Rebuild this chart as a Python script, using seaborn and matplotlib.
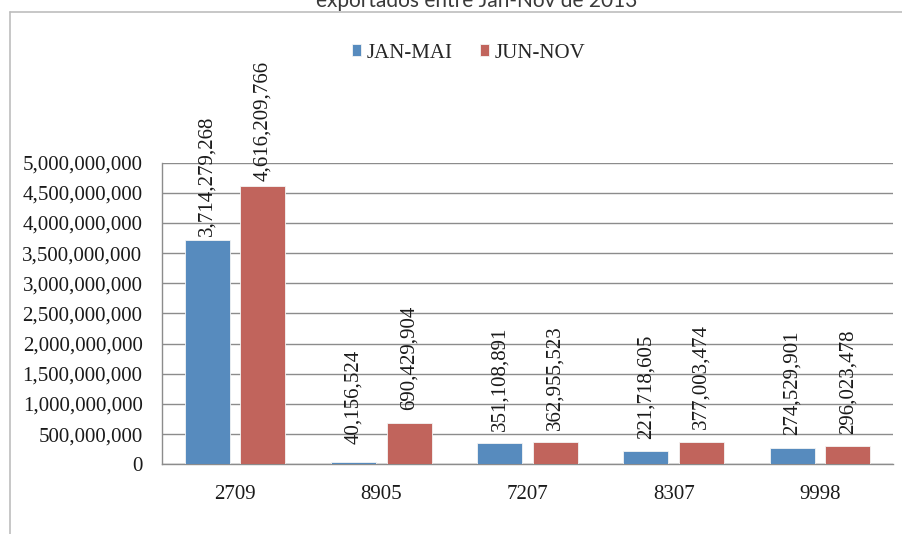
import matplotlib
matplotlib.use("Agg")
import matplotlib.pyplot as plt
from matplotlib.lines import Line2D
from matplotlib.ticker import FuncFormatter, MultipleLocator
import pandas as pd
import seaborn as sns

# Exported value per product code, Jan–May vs Jun–Nov 2013
categories = ["2709", "8905", "7207", "8307", "9998"]
jan_mai = [3714279268, 40156524, 351108891, 221718605, 274529901]
jun_nov = [4616209766, 690429904, 362955523, 377003474, 296023478]
series_names = ["JAN-MAI", "JUN-NOV"]
title_text = "exportados entre Jan-Nov de 2013"

df = pd.DataFrame({
    "codigo": categories * 2,
    "valor": jan_mai + jun_nov,
    "periodo": [series_names[0]] * len(categories) + [series_names[1]] * len(categories),
})

sns.set_theme(style="white")
serif = ["Liberation Serif", "DejaVu Serif"]
plt.rcParams["font.family"] = serif

W, H = 903, 534
fig = plt.figure(figsize=(W / 100, H / 100), dpi=100)
ax = fig.add_axes([162 / W, 1 - 464.3 / H, (893 - 162) / W, (464.3 - 162.7) / H])

palette = {"JAN-MAI": "#578BBE", "JUN-NOV": "#C1645C"}
sns.barplot(data=df, x="codigo", y="valor", hue="periodo", order=categories,
            hue_order=series_names, palette=palette, saturation=1,
            width=0.76, gap=0.19, errorbar=None, ax=ax,
            edgecolor="#f4f4f4", linewidth=0.6, zorder=3)

ax.set_ylim(0, 5e9)
ax.set_xlim(-0.5, len(categories) - 0.5)
ax.yaxis.set_major_locator(MultipleLocator(5e8))
ax.yaxis.set_major_formatter(FuncFormatter(lambda v, _: f"{v:,.0f}"))
ax.grid(axis="y", color="#8c8c8c", linewidth=1.0, zorder=0)
ax.set_axisbelow(True)
ax.set_xlabel("")
ax.set_ylabel("")

for side in ("top", "right"):
    ax.spines[side].set_visible(False)
for side in ("left", "bottom"):
    ax.spines[side].set_color("#8c8c8c")
    ax.spines[side].set_linewidth(1.0)

ax.tick_params(axis="both", length=0, labelsize=15, colors="#1a1a1a")
ax.tick_params(axis="y", pad=14)
ax.tick_params(axis="x", pad=15)

# Rotated value labels above each bar
for container in ax.containers:
    for bar in container:
        h = bar.get_height()
        ax.annotate(f"{h:,.0f}", xy=(bar.get_x() + bar.get_width() / 2, h),
                    xytext=(0, 46.5), textcoords="offset points",
                    rotation=90, ha="center", va="center",
                    fontsize=15, color="#1a1a1a", family=serif)

ax.legend(loc="center", bbox_to_anchor=(468.5 / W, 1 - 53 / H),
          bbox_transform=fig.transFigure, ncol=2, frameon=False,
          fontsize=15, handlelength=0.45, handleheight=0.45,
          handletextpad=0.25, columnspacing=1.3, borderpad=0)

# Chart frame lines and the title running off the top edge
frame_color = "#bdbdbd"
fig.add_artist(Line2D([10 / W, 10 / W], [0, 1 - 12 / H], transform=fig.transFigure,
                      color=frame_color, linewidth=1.2))
fig.add_artist(Line2D([10 / W, 1], [1 - 12 / H, 1 - 12 / H], transform=fig.transFigure,
                      color=frame_color, linewidth=1.2))
fig.text(477 / W, 1 - 7 / H, title_text, ha="center", va="baseline",
         fontsize=15, color="#3a3a3a", family=["Lato", "DejaVu Sans"])

fig.savefig("out.png", dpi=100)
